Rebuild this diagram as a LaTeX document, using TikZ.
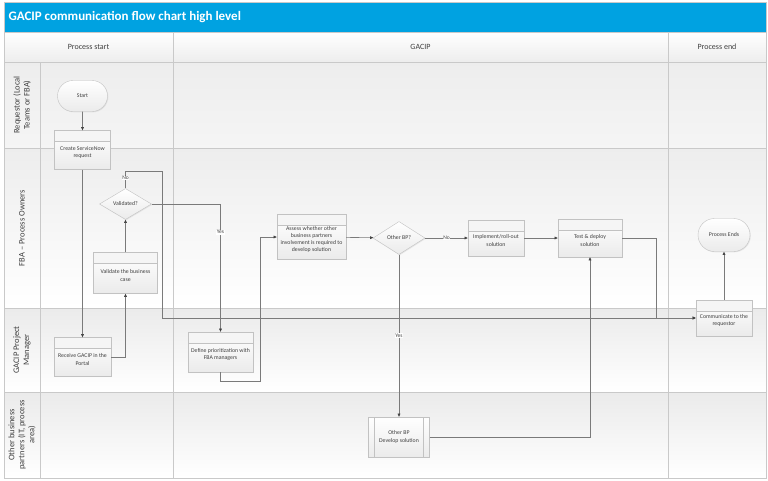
\documentclass[tikz,border=0pt]{standalone}
\usepackage{fontspec}
\setmainfont{Carlito}
\usepackage{tikz}
\usetikzlibrary{arrows.meta,shapes.geometric,shapes.misc,shadows}
\definecolor{gblue}{HTML}{00A2E1}
\definecolor{grid}{HTML}{C9C9C9}
\definecolor{bdr}{HTML}{C2C2C2}
\definecolor{wire}{HTML}{7A7A7A}
\definecolor{txt}{HTML}{3F3F3F}
\newcommand{\bxfont}{\fontsize{5.8}{7.2}\selectfont}
\newcommand{\hdgap}{\mbox{}\\[2pt]}

\begin{document}
\begin{tikzpicture}[x=1pt,y=-1pt,
  box/.style={draw=bdr,top color=white,bottom color=black!8,text=txt,font=\bxfont,
    align=center,inner sep=1pt,
    drop shadow={opacity=0.15,shadow xshift=0.8pt,shadow yshift=-0.8pt}},
  task/.style={box,rectangle,path picture={
    \fill[black!4] (path picture bounding box.north west) rectangle ([yshift=-11pt]path picture bounding box.north east);
    \draw[bdr] ([yshift=-11pt]path picture bounding box.north west) -- ([yshift=-11pt]path picture bounding box.north east);}},
  sub/.style={box,rectangle,path picture={
    \draw[bdr] ([xshift=6pt]path picture bounding box.north west) -- ([xshift=6pt]path picture bounding box.south west);
    \draw[bdr] ([xshift=-6pt]path picture bounding box.north east) -- ([xshift=-6pt]path picture bounding box.south east);}},
  term/.style={box,rounded rectangle},
  dec/.style={box,diamond,inner sep=0pt},
  flow/.style={draw=wire,line width=0.6pt,-{Triangle[length=3.2pt,width=2.8pt,color=black!75]}},
  yn/.style={fill=white,text=txt,font=\fontsize{5.5}{6}\selectfont,inner sep=0.6pt},
  lanelbl/.style={rotate=90,align=center,text=txt,font=\fontsize{8.5}{10}\selectfont},
  colhd/.style={text=txt,font=\fontsize{8}{9}\selectfont}]
  \useasboundingbox (0,0) rectangle (768,480);
  % title bar and column heads
  \fill[gblue] (4,2) rectangle (766,32);
  \node[anchor=west,text=white,font=\fontsize{13}{15}\selectfont\bfseries] (ttl) at (5,17.5) {GACIP communication flow chart high level};
  \shade[top color=white,bottom color=black!7] (4,32) rectangle (766,62);
  \node[colhd] (hs) at (88.5,47) {Process start};
  \node[colhd] (hg) at (420.5,47) {GACIP};
  \node[colhd] (he) at (717,47) {Process end};
  % lanes
  \shade[top color=black!7,bottom color=black!4] (4,62) rectangle (766,148);
  \shade[top color=black!7,bottom color=white] (4,148) rectangle (766,308);
  \shade[top color=black!8,bottom color=white] (4,308) rectangle (766,392);
  \shade[top color=black!8,bottom color=white] (4,392) rectangle (766,478);
  \foreach \y in {32,62,148,308,392} \draw[grid] (4,\y) -- (766,\y);
  \draw[grid] (40,62) -- (40,478);
  \foreach \x in {173,668} \draw[grid] (\x,32) -- (\x,478);
  \draw[grid] (4,2) rectangle (766,478);
  \node[lanelbl] (l1) at (22,105) {Requestor (Local\\Teams or FBA)};
  \node[lanelbl] (l2) at (22,228) {FBA -- Process Owners};
  \node[lanelbl] (l3) at (22,350) {GACIP Project\\Manager};
  \node[lanelbl] (l4) at (22,435) {Other business\\partners (IT, process\\area)};
  % steps
  \node[term,minimum width=52,minimum height=31] (start) at (82.5,96) {Start};
  \node[task,minimum width=56,minimum height=39] (crt) at (82.5,150) {\hdgap Create ServiceNow\\request};
  \node[dec,minimum width=52,minimum height=31] (vld) at (125.5,204) {Validated?};
  \node[task,minimum width=64,minimum height=41] (vbc) at (125.5,273) {\hdgap Validate the business\\case};
  \node[task,minimum width=57,minimum height=39] (rcv) at (82.5,357) {\hdgap Receive GACIP in the\\Portal};
  \node[task,minimum width=65,minimum height=40] (def) at (220.5,352) {\hdgap Define prioritization with\\FBA managers};
  \node[task,minimum width=69,minimum height=45] (asm) at (311.5,237) {\hdgap Assess whether other\\business partners\\involvement is required to\\develop solution};
  \node[dec,minimum width=52,minimum height=33] (obp) at (399,238) {Other BP?};
  \node[task,minimum width=56,minimum height=36] (imp) at (496,238) {\hdgap Implement/roll-out\\solution};
  \node[task,minimum width=64,minimum height=38] (tst) at (590,238) {\hdgap Test \& deploy\\solution};
  \node[term,minimum width=54,minimum height=33] (pend) at (724,235) {Process Ends};
  \node[task,minimum width=56,minimum height=36] (com) at (724,318) {\hdgap Communicate to the\\requestor};
  \node[sub,minimum width=61,minimum height=40] (dev) at (399,437) {Other BP\\Develop solution};
  % flows
  \coordinate (nA) at (162,171);
  \coordinate (dB) at (260,381);
  \coordinate (tR) at (656,318);
  \draw[flow] (start) -- (crt);
  \draw[flow] (crt) -- (rcv);
  \draw[flow] (rcv.east) -| (vbc.south);
  \draw[flow] (vbc) -- (vld);
  \draw[flow,line width=0.8pt] (vld.north) |- node[yn,pos=0.3]{No} (nA) |- (com.west);
  \draw[flow] (vld.east) -| node[yn,pos=0.61]{Yes} (def.north);
  \draw[flow] (def.south) |- (dB) |- (asm.west);
  \draw[flow] (asm) -- (obp);
  \draw[flow] (obp) -- node[yn]{No} (imp);
  \draw[flow] (imp) -- (tst);
  \draw[flow] (obp) -- node[yn]{Yes} (dev);
  \draw[flow] (dev.east) -| (tst.south);
  \draw[flow,line width=0.8pt] (tst.east) -| (tR) -- (com.west);
  \draw[flow] (com) -- (pend);
\end{tikzpicture}
\end{document}
